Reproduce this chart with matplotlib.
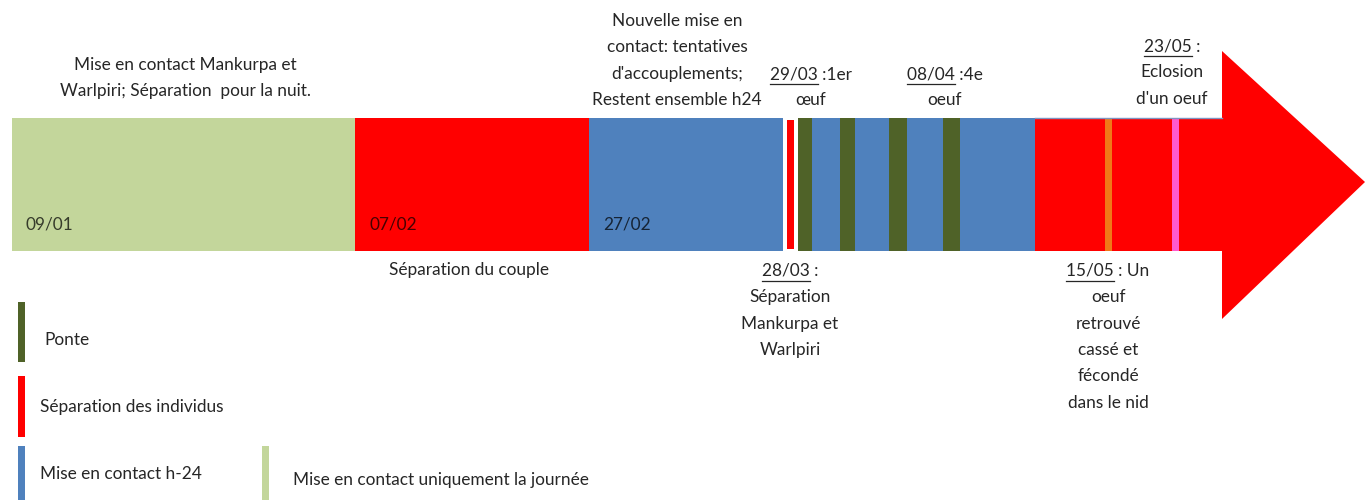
import matplotlib.pyplot as plt
from matplotlib.patches import Rectangle, Polygon

# timeline positions (in drawing units along the arrow, 0..1365)
PHASE_START = [12, 355, 589, 787, 798, 1035]
PHASE_END = [355, 589, 783, 794, 1035, 1224]
PHASE_KIND = ["jour", "separation", "h24", "separation", "h24", "separation"]

PONTE_START = [798, 840, 889, 943]
PONTE_END = [812, 855, 907, 960]

EVENT_START = [1105, 1172]
EVENT_END = [1112, 1179]
EVENT_COLOR = ["#F07818", "#FF5ACD"]

DATE_LABELS = ["09/01", "07/02", "27/02"]
DATE_POS = [26, 370, 603]

KIND_COLOR = {
    "jour": "#C3D69B",
    "separation": "#FF0000",
    "h24": "#4F81BD",
    "ponte": "#4F6228",
}

TEXT_COLOR = "#262626"
FONT = "Lato"
FS = 12.4

# annotations: (x center, first line y, lines, underlined prefix of first line)
NOTES = [
    (185, 65, ["Mise en contact Mankurpa et", "Warlpiri; Séparation  pour la nuit."], None),
    (677, 21, ["Nouvelle mise en", "contact: tentatives", "d'accouplements;", "Restent ensemble h24"], None),
    (811, 74, ["29/03 :1er", "œuf"], "29/03"),
    (945, 74, ["08/04 :4e", "oeuf"], "08/04"),
    (1172, 46, ["23/05 :", "Eclosion", "d'un oeuf"], "23/05"),
    (469, 270, ["Séparation du couple"], None),
    (790, 271, ["28/03 :", "Séparation", "Mankurpa et", "Warlpiri"], "28/03"),
    (1108, 271, ["15/05 : Un", "oeuf", "retrouvé", "cassé et", "fécondé", "dans le nid"], "15/05 "),
]
LINE_STEP = 26.3

LEGEND = [
    ("ponte", "Ponte", 18, 302, 362, 44, 340),
    ("separation", "Séparation des individus", 18, 376, 437, 40, 407),
    ("h24", "Mise en contact h-24", 18, 446, 500, 40, 474),
    ("jour", "Mise en contact uniquement la journée", 262, 446, 500, 293, 480),
]

BAR_TOP, BAR_BOTTOM = 118, 251

fig = plt.figure(figsize=(13.65, 5.0), dpi=100)
ax = fig.add_axes([0, 0, 1, 1])
ax.set_xlim(0, 1365)
ax.set_ylim(500, 0)
ax.axis("off")

# arrow head
ax.add_patch(Polygon([(1222, 51), (1365, 182), (1222, 319)], closed=True,
                     facecolor="#FF0000", edgecolor="none"))

for x0, x1, kind in zip(PHASE_START, PHASE_END, PHASE_KIND):
    thin = (x1 - x0) < 10
    top, bot = (BAR_TOP + 2, BAR_BOTTOM - 2) if thin else (BAR_TOP, BAR_BOTTOM)
    ax.add_patch(Rectangle((x0, top), x1 - x0, bot - top,
                           facecolor=KIND_COLOR[kind], edgecolor="none"))

for x0, x1 in zip(PONTE_START, PONTE_END):
    ax.add_patch(Rectangle((x0, BAR_TOP), x1 - x0, BAR_BOTTOM - BAR_TOP,
                           facecolor=KIND_COLOR["ponte"], edgecolor="none"))

for x0, x1, c in zip(EVENT_START, EVENT_END, EVENT_COLOR):
    ax.add_patch(Rectangle((x0, BAR_TOP), x1 - x0, BAR_BOTTOM - BAR_TOP,
                           facecolor=c, edgecolor="none"))

# thin outline along the top of the last red phase
ax.plot([1035, 1222], [BAR_TOP, BAR_TOP], color="#7F93C0", lw=1)

for lab, x in zip(DATE_LABELS, DATE_POS):
    ax.text(x, 225, lab, fontsize=FS, family=FONT, color="black", alpha=0.72,
            ha="left", va="center")

renderer = fig.canvas.get_renderer()


def text_width(s):
    # width in pixels, equal to data units with this axes setup
    t = ax.text(0, 0, s, fontsize=FS, family=FONT)
    w = t.get_window_extent(renderer).width
    t.remove()
    return w


for xc, y0, lines, under in NOTES:
    for i, line in enumerate(lines):
        ax.text(xc, y0 + i * LINE_STEP, line, fontsize=FS, family=FONT,
                color=TEXT_COLOR, ha="center", va="center")
    if under:
        full = text_width(lines[0])
        part = text_width(under.rstrip())
        left = xc - full / 2
        ax.plot([left, left + part], [y0 + 10, y0 + 10], color=TEXT_COLOR, lw=0.9)

for kind, label, lx, y0, y1, tx, ty in LEGEND:
    ax.add_patch(Rectangle((lx, y0), 7, y1 - y0, facecolor=KIND_COLOR[kind],
                           edgecolor="none"))
    ax.text(tx, ty, label, fontsize=FS, family=FONT, color=TEXT_COLOR,
            ha="left", va="center")

fig.savefig("out.png", dpi=100, facecolor="white")
